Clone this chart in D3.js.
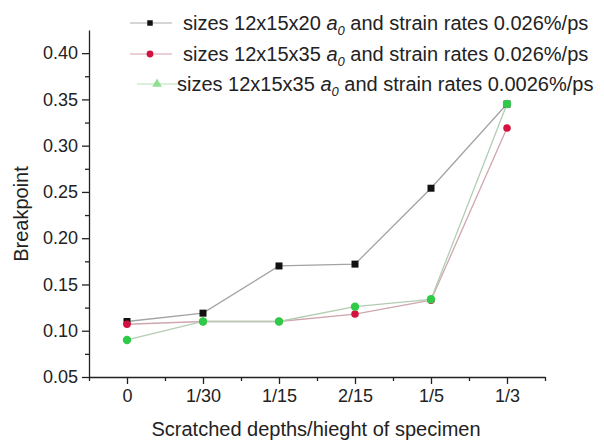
<!DOCTYPE html>
<html>
  <head>
    <style>
      body { margin: 0; background: #fff; }
      text { font-family: Arial, "Liberation Sans", sans-serif; fill: #222; }
      .axis path, .axis line { stroke: #222; stroke-width: 1.3; }
    </style>
  </head>
  <body>
    <script src="https://d3js.org/d3.v7.min.js"></script>
    <div id="chart"></div>
    <script>
      // Data
      var categories = ["0", "1/30", "1/15", "2/15", "1/5", "1/3"];
      var blackVals = [0.110, 0.119, 0.170, 0.172, 0.254, 0.345];
      var redVals   = [0.107, 0.110, 0.110, 0.118, 0.133, 0.319];
      var greenVals = [0.090, 0.110, 0.110, 0.126, 0.134, 0.345];
      var yTicks = [0.05, 0.10, 0.15, 0.20, 0.25, 0.30, 0.35, 0.40];
      var seriesNames = [
        ["sizes 12x15x20 ", " and strain rates 0.026%/ps"],
        ["sizes 12x15x35 ", " and strain rates 0.026%/ps"],
        ["sizes 12x15x35 ", " and strain rates 0.0026%/ps"]
      ];

      var width = 604, height = 440;
      var svg = d3.select("#chart").append("svg")
          .attr("width", width).attr("height", height);

      var x = d3.scaleLinear().domain([-0.5, 5.5]).range([89, 545]);
      var y = d3.scaleLinear().domain([0.05, 0.425]).range([377, 30]);

      // minor ticks
      var xMinor = d3.range(-0.5, 5.6, 1);
      var yMinor = d3.range(0.075, 0.42, 0.05);
      svg.append("g").attr("class", "axis")
          .attr("transform", "translate(0,377)")
          .call(d3.axisBottom(x).tickValues(xMinor).tickSize(4).tickFormat(""))
          .select(".domain").remove();
      svg.append("g").attr("class", "axis")
          .attr("transform", "translate(89,0)")
          .call(d3.axisLeft(y).tickValues(yMinor).tickSize(4).tickFormat(""))
          .select(".domain").remove();

      // x axis
      var gx = svg.append("g").attr("class", "axis")
          .attr("transform", "translate(0,377)")
          .call(d3.axisBottom(x).tickValues(d3.range(6)).tickSize(7).tickSizeOuter(0)
            .tickFormat(function(i) { return categories[i]; }));
      gx.selectAll("text").style("font-size", "18px").attr("y", 12).attr("dy", "0.71em");

      // y axis
      var gy = svg.append("g").attr("class", "axis")
          .attr("transform", "translate(89,0)")
          .call(d3.axisLeft(y).tickValues(yTicks).tickSize(7).tickSizeOuter(0)
            .tickFormat(d3.format(".2f")));
      gy.selectAll("text").style("font-size", "18px").attr("x", -11);

      // axis titles
      svg.append("text")
          .attr("x", 316).attr("y", 436)
          .attr("text-anchor", "middle")
          .style("font-size", "20px")
          .text("Scratched depths/hieght of specimen");
      svg.append("text")
          .attr("transform", "translate(28,214) rotate(-90)")
          .attr("text-anchor", "middle")
          .style("font-size", "20px")
          .text("Breakpoint");

      var series = [
        {vals: blackVals, line: "#a3a3a3", fill: "#111", shape: d3.symbolSquare, size: 49},
        {vals: redVals, line: "#cfa7ae", fill: "#d3123f", shape: d3.symbolCircle, size: 45},
        {vals: greenVals, line: "#b3cdb3", fill: "#2fcb48", shape: d3.symbolCircle, size: 55}
      ];

      var line = d3.line()
          .x(function(d, i) { return x(i); })
          .y(function(d) { return y(d); });

      series.forEach(function(s) {
        svg.append("path")
            .datum(s.vals)
            .attr("fill", "none")
            .attr("stroke", s.line)
            .attr("stroke-width", 1.3)
            .attr("d", line);
      });
      series.forEach(function(s) {
        svg.selectAll(null)
            .data(s.vals)
          .enter().append("path")
            .attr("transform", function(d, i) { return "translate(" + x(i) + "," + y(d) + ")"; })
            .attr("d", d3.symbol().type(s.shape).size(s.size))
            .attr("fill", s.fill);
      });

      // legend
      var legendRows = [
        {yy: 23, mx: 150, tx: 183, fill: "#111", line: "#d6d6d6", shape: d3.symbolSquare, size: 30},
        {yy: 54, mx: 150, tx: 183, fill: "#d3123f", line: "#ead0d5", shape: d3.symbolCircle, size: 36},
        {yy: 84, mx: 157, tx: 177, fill: "#8fe08f", line: "#dcefdc", shape: d3.symbolTriangle, size: 40}
      ];
      legendRows.forEach(function(r, i) {
        svg.append("line")
            .attr("x1", r.mx - 20).attr("x2", r.mx + 22)
            .attr("y1", r.yy).attr("y2", r.yy)
            .attr("stroke", r.line).attr("stroke-width", 2);
        svg.append("path")
            .attr("transform", "translate(" + r.mx + "," + r.yy + ")")
            .attr("d", d3.symbol().type(r.shape).size(r.size))
            .attr("fill", r.fill);
        var t = svg.append("text")
            .attr("x", r.tx).attr("y", r.yy + 7)
            .style("font-size", "20px");
        t.append("tspan").text(seriesNames[i][0]);
        t.append("tspan").style("font-style", "italic").text("a");
        t.append("tspan").style("font-style", "italic").style("font-size", "13px")
            .attr("dy", 5).text("0");
        t.append("tspan").attr("dy", -5).text(seriesNames[i][1]);
      });
    </script>
  </body>
</html>
